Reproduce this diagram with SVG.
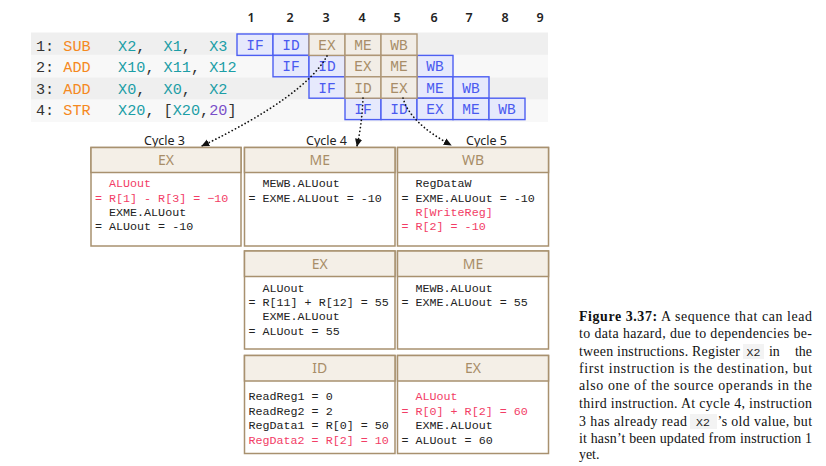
<svg xmlns="http://www.w3.org/2000/svg" width="826" height="466" viewBox="0 0 826 466">
<style>
.code{font-family:"Liberation Mono","DejaVu Sans Mono",monospace;font-size:15.2px;fill:#333;white-space:pre}
.op{fill:#f5891e}.reg{fill:#1c9ea6}.num{fill:#7a4fc8}
.cb rect{fill:#e6e9fc;stroke:#4d5ff2;stroke-width:1.4}
.cb text{fill:#4a5af0}
.cw rect{fill:#f2ede6;stroke:#ae9676;stroke-width:1.4}
.cw text{fill:#a88d68}
.cell{font-family:"Liberation Mono","DejaVu Sans Mono",monospace;font-size:14.5px;text-anchor:middle}
.colnum{font-family:"Noto Sans","Liberation Sans",sans-serif;font-size:12.5px;font-weight:600;fill:#222;text-anchor:middle}
.cyc{font-family:"Noto Sans","Liberation Sans",sans-serif;font-size:12.5px;fill:#222;text-anchor:middle}
.box{fill:#fff;stroke:#a8916f;stroke-width:1.5}
.hdr{fill:#f4efe7;stroke:#a8916f;stroke-width:1.5}
.htx{font-family:"Noto Sans","Liberation Sans",sans-serif;font-size:14px;fill:#a88d68;text-anchor:middle}
.body{font-family:"Liberation Mono","DejaVu Sans Mono",monospace;font-size:11.7px;fill:#222;white-space:pre}
.pk{fill:#f23d66}
.conn path{fill:none;stroke:#111;stroke-width:1.7;stroke-linecap:round;stroke-dasharray:0.1 3.6}
.cap{font-family:"Liberation Serif","Times New Roman",serif;font-size:13.9px;fill:#111}
.capc{font-family:"Liberation Mono","DejaVu Sans Mono",monospace;font-size:11.5px;fill:#222}
</style>
<defs>
<marker id="ah" viewBox="0 0 10 10" refX="9" refY="5" markerWidth="8" markerHeight="8" markerUnits="userSpaceOnUse" orient="auto">
<path d="M0,0.5 L10,5 L0,9.5 z" fill="#111" stroke="none"/>
</marker>
</defs>
<rect width="826" height="466" fill="#fff"/>

<g id="stripes">
<rect x="31" y="32.5" width="517" height="22.4" fill="#efefef"/>
<rect x="31" y="54.9" width="517" height="22.4" fill="#f8f8f8"/>
<rect x="31" y="77.3" width="517" height="22.4" fill="#efefef"/>
<rect x="31" y="99.7" width="517" height="22.3" fill="#f8f8f8"/>
</g>

<g id="colnums" class="colnum">
<text x="251" y="21.5">1</text><text x="290" y="21.5">2</text><text x="326" y="21.5">3</text>
<text x="362" y="21.5">4</text><text x="397" y="21.5">5</text><text x="434" y="21.5">6</text>
<text x="469" y="21.5">7</text><text x="505" y="21.5">8</text><text x="540" y="21.5">9</text>
</g>

<g id="instructions" class="code">
<text xml:space="preserve" x="36" y="50.5">1: <tspan class="op">SUB</tspan>   <tspan class="reg">X2</tspan>,  <tspan class="reg">X1</tspan>,  <tspan class="reg">X3</tspan></text>
<text xml:space="preserve" x="36" y="72">2: <tspan class="op">ADD</tspan>   <tspan class="reg">X10</tspan>, <tspan class="reg">X11</tspan>, <tspan class="reg">X12</tspan></text>
<text xml:space="preserve" x="36" y="93.5">3: <tspan class="op">ADD</tspan>   <tspan class="reg">X0</tspan>,  <tspan class="reg">X0</tspan>,  <tspan class="reg">X2</tspan></text>
<text xml:space="preserve" x="36" y="115">4: <tspan class="op">STR</tspan>   <tspan class="reg">X20</tspan>, [<tspan class="reg">X20</tspan>,<tspan class="num">20</tspan>]</text>
</g>

<g id="pipeline" class="cell">
<g class="cb">
<rect x="237" y="34" width="36" height="21.4"/><text x="255" y="50">IF</text>
<rect x="273" y="34" width="36" height="21.4"/><text x="291" y="50">ID</text>
<rect x="273" y="55.4" width="36" height="21.4"/><text x="291" y="71.4">IF</text>
<rect x="309" y="55.4" width="36" height="21.4"/><text x="327" y="71.4">ID</text>
<rect x="417" y="55.4" width="36" height="21.4"/><text x="435" y="71.4">WB</text>
<rect x="309" y="76.8" width="36" height="21.4"/><text x="327" y="92.8">IF</text>
<rect x="417" y="76.8" width="36" height="21.4"/><text x="435" y="92.8">ME</text>
<rect x="453" y="76.8" width="36" height="21.4"/><text x="471" y="92.8">WB</text>
<rect x="345" y="98.2" width="36" height="21.4"/><text x="363" y="114.2">IF</text>
<rect x="381" y="98.2" width="36" height="21.4"/><text x="399" y="114.2">ID</text>
<rect x="417" y="98.2" width="36" height="21.4"/><text x="435" y="114.2">EX</text>
<rect x="453" y="98.2" width="36" height="21.4"/><text x="471" y="114.2">ME</text>
<rect x="489" y="98.2" width="36" height="21.4"/><text x="507" y="114.2">WB</text>
</g>
<g class="cw">
<rect x="309" y="34" width="36" height="21.4"/><text x="327" y="50">EX</text>
<rect x="345" y="34" width="36" height="21.4"/><text x="363" y="50">ME</text>
<rect x="381" y="34" width="36" height="21.4"/><text x="399" y="50">WB</text>
<rect x="345" y="55.4" width="36" height="21.4"/><text x="363" y="71.4">EX</text>
<rect x="381" y="55.4" width="36" height="21.4"/><text x="399" y="71.4">ME</text>
<rect x="345" y="76.8" width="36" height="21.4"/><text x="363" y="92.8">ID</text>
<rect x="381" y="76.8" width="36" height="21.4"/><text x="399" y="92.8">EX</text>
</g>
</g>

<g id="connectors" class="conn">
<path d="M327,56 Q305,96 202,146" marker-end="url(#ah)"/>
<path d="M363,98 Q362,124 357,146" marker-end="url(#ah)"/>
<path d="M403,98 Q410,123 451,145" marker-end="url(#ah)"/>
</g>

<g id="cycle-labels" class="cyc">
<text x="164.5" y="145">Cycle 3</text>
<text x="326.5" y="145">Cycle 4</text>
<text x="486.5" y="145">Cycle 5</text>
</g>

<g id="c3-ex">
<rect class="box" x="91" y="147.5" width="150" height="98.5"/>
<rect class="hdr" x="91" y="147.5" width="150" height="25"/>
<text class="htx" x="166" y="164.5">EX</text>
<g class="body">
<text xml:space="preserve" x="95" y="187" class="pk">  ALUout</text>
<text xml:space="preserve" x="95" y="201.5" class="pk">= R[1] - R[3] = −10</text>
<text xml:space="preserve" x="95" y="215.5">  EXME.ALUout</text>
<text xml:space="preserve" x="95" y="230">= ALUout = -10</text>
</g>
</g>

<g id="c4-me">
<rect class="box" x="244.5" y="147.5" width="150.5" height="98.5"/>
<rect class="hdr" x="244.5" y="147.5" width="150.5" height="25"/>
<text class="htx" x="319.75" y="164.5">ME</text>
<g class="body">
<text xml:space="preserve" x="248.5" y="187">  MEWB.ALUout</text>
<text xml:space="preserve" x="248.5" y="201.5">= EXME.ALUout = -10</text>
</g>
</g>

<g id="c5-wb">
<rect class="box" x="397.5" y="147.5" width="151" height="98.5"/>
<rect class="hdr" x="397.5" y="147.5" width="151" height="25"/>
<text class="htx" x="473" y="164.5">WB</text>
<g class="body">
<text xml:space="preserve" x="401.5" y="187">  RegDataW</text>
<text xml:space="preserve" x="401.5" y="201.5">= EXME.ALUout = -10</text>
<text xml:space="preserve" x="401.5" y="215.5" class="pk">  R[WriteReg]</text>
<text xml:space="preserve" x="401.5" y="230" class="pk">= R[2] = -10</text>
</g>
</g>

<g id="c4-ex">
<rect class="box" x="244.5" y="251" width="150.5" height="98"/>
<rect class="hdr" x="244.5" y="251" width="150.5" height="25.5"/>
<text class="htx" x="319.75" y="268.5">EX</text>
<g class="body">
<text xml:space="preserve" x="248.5" y="292">  ALUout</text>
<text xml:space="preserve" x="248.5" y="306">= R[11] + R[12] = 55</text>
<text xml:space="preserve" x="248.5" y="320">  EXME.ALUout</text>
<text xml:space="preserve" x="248.5" y="334.5">= ALUout = 55</text>
</g>
</g>

<g id="c5-me">
<rect class="box" x="397.5" y="251" width="151" height="98"/>
<rect class="hdr" x="397.5" y="251" width="151" height="25.5"/>
<text class="htx" x="473" y="268.5">ME</text>
<g class="body">
<text xml:space="preserve" x="401.5" y="292">  MEWB.ALUout</text>
<text xml:space="preserve" x="401.5" y="306">= EXME.ALUout = 55</text>
</g>
</g>

<g id="c4-id">
<rect class="box" x="244.5" y="355.5" width="150.5" height="98"/>
<rect class="hdr" x="244.5" y="355.5" width="150.5" height="25.5"/>
<text class="htx" x="319.75" y="373">ID</text>
<g class="body">
<text x="248.5" y="400">ReadReg1 = 0</text>
<text x="248.5" y="414.5">ReadReg2 = 2</text>
<text x="248.5" y="429">RegData1 = R[0] = 50</text>
<text x="248.5" y="443.5" class="pk">RegData2 = R[2] = 10</text>
</g>
</g>

<g id="c5-ex">
<rect class="box" x="397.5" y="355.5" width="151" height="98"/>
<rect class="hdr" x="397.5" y="355.5" width="151" height="25.5"/>
<text class="htx" x="473" y="373">EX</text>
<g class="body">
<text xml:space="preserve" x="401.5" y="400" class="pk">  ALUout</text>
<text xml:space="preserve" x="401.5" y="414.5" class="pk">= R[0] + R[2] = 60</text>
<text xml:space="preserve" x="401.5" y="429">  EXME.ALUout</text>
<text xml:space="preserve" x="401.5" y="443.5">= ALUout = 60</text>
</g>
</g>

<g id="caption" class="cap">
<text x="579" y="321" textLength="233" lengthAdjust="spacing"><tspan font-weight="bold">Figure 3.37:</tspan> A sequence that can lead</text>
<text x="579" y="338" textLength="233" lengthAdjust="spacing">to data hazard, due to dependencies be-</text>
<text x="579" y="356" textLength="161" lengthAdjust="spacing">tween instructions. Register</text>
<rect x="743" y="344" width="21" height="15" fill="#f3f3f3"/>
<text class="capc" x="746.5" y="356">X2</text>
<text x="769" y="356">in</text>
<text x="812" y="356" text-anchor="end">the</text>
<text x="579" y="373" textLength="233" lengthAdjust="spacing">first instruction is the destination, but</text>
<text x="579" y="390" textLength="233" lengthAdjust="spacing">also one of the source operands in the</text>
<text x="579" y="407.5" textLength="233" lengthAdjust="spacing">third instruction. At cycle 4, instruction</text>
<text x="579" y="426" textLength="108" lengthAdjust="spacing">3 has already read</text>
<rect x="690" y="414" width="27" height="15" fill="#f3f3f3"/>
<text class="capc" x="696" y="426">X2</text>
<text x="717.5" y="426" textLength="94.5" lengthAdjust="spacing">’s old value, but</text>
<text x="579" y="443" textLength="233" lengthAdjust="spacing">it hasn’t been updated from instruction 1</text>
<text x="579" y="458.5">yet.</text>
</g>
</svg>
